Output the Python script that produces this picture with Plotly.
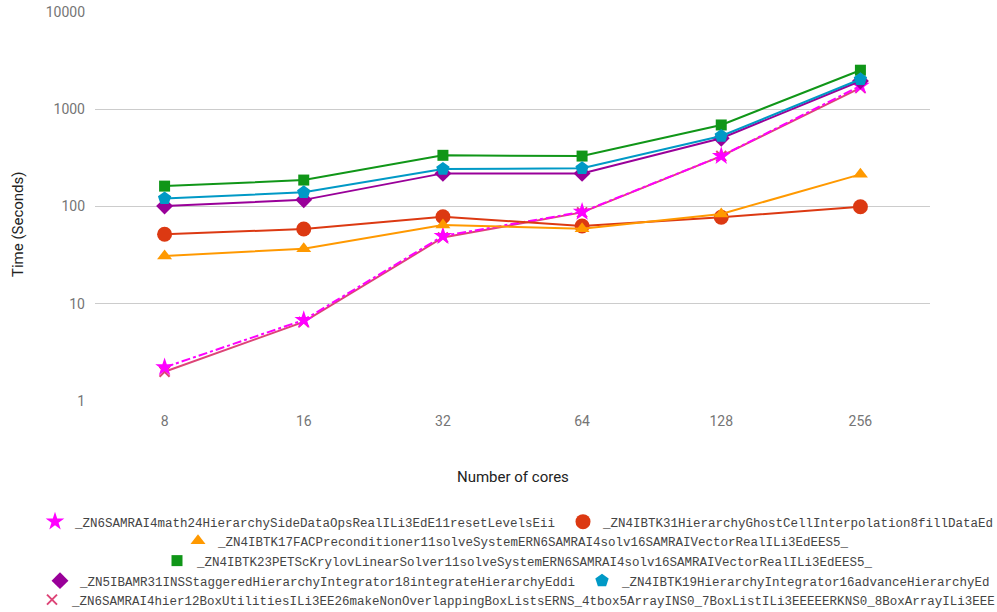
import plotly.graph_objects as go

cores = ["8", "16", "32", "64", "128", "256"]

names = [
    "_ZN6SAMRAI4math24HierarchySideDataOpsRealILi3EdE11resetLevelsEii",
    "_ZN4IBTK31HierarchyGhostCellInterpolation8fillDataEd",
    "_ZN4IBTK17FACPreconditioner11solveSystemERN6SAMRAI4solv16SAMRAIVectorRealILi3EdEES5_",
    "_ZN4IBTK23PETScKrylovLinearSolver11solveSystemERN6SAMRAI4solv16SAMRAIVectorRealILi3EdEES5_",
    "_ZN5IBAMR31INSStaggeredHierarchyIntegrator18integrateHierarchyEddi",
    "_ZN4IBTK19HierarchyIntegrator16advanceHierarchyEd",
    "_ZN6SAMRAI4hier12BoxUtilitiesILi3EE26makeNonOverlappingBoxListsERNS_4tbox5ArrayINS0_7BoxListILi3EEEEERKNS0_8BoxArrayILi3EEE",
]

reset_levels = [2.22, 6.8, 49.7, 88, 330, 1740]
fill_data = [51.8, 58.7, 78.5, 63, 77.4, 99.5]
fac_solve = [31, 36.8, 64.5, 59, 83.7, 214]
petsc_solve = [162, 187, 336, 330, 689, 2520]
integrate_hier = [101, 117, 219, 219, 503, 1950]
advance_hier = [121, 140, 243, 247, 531, 2032]
box_lists = [2.0, 6.5, 48, 87, 330, 1660]

series = [reset_levels, fill_data, fac_solve, petsc_solve, integrate_hier, advance_hier, box_lists]
colors = ["#ff00ff", "#dc3912", "#ff9900", "#109618", "#990099", "#0099c6", "#dd4477"]
symbols = ["star", "circle", "triangle-up", "square", "diamond", "pentagon", "x-thin-open"]
sizes = [14, 15, 13, 11, 13, 14, 10]
dashes = ["dashdot", "solid", "solid", "solid", "solid", "solid", "solid"]

# legend placement (left edge px, row centre px) - one legend per entry
legend_pos = [(35, 522), (563, 522), (178, 541), (157, 561), (40, 581), (582, 581), (32, 600)]
legend_ids = ["legend"] + ["legend%d" % (k + 2) for k in range(6)]

def make_marker(i):
    m = dict(color=colors[i], size=sizes[i], symbol=symbols[i])
    if symbols[i] == "x-thin-open":
        m["line"] = dict(color=colors[i], width=2)
    return m

fig = go.Figure()
order = [6, 0, 1, 2, 3, 4, 5]  # pink line drawn under the magenta star
for i in order:
    fig.add_trace(go.Scatter(
        x=cores, y=series[i], name=names[i], mode="lines+markers",
        line=dict(color=colors[i], width=2, dash=dashes[i]),
        marker=make_marker(i), showlegend=False,
    ))
# legend entries show the marker only
for i in range(len(series)):
    fig.add_trace(go.Scatter(
        x=[None], y=[None], name=names[i], mode="markers",
        marker=make_marker(i), legend=legend_ids[i], showlegend=True,
    ))

legend_font = dict(family="Liberation Mono, Courier New, monospace", size=12.5, color="#444")
W, H = 997.0, 612.0
def leg(px_left, py_center):
    return dict(orientation="h", xref="container", yref="container",
                x=px_left / W, xanchor="left",
                y=1 - py_center / H, yanchor="middle",
                font=legend_font, bgcolor="rgba(0,0,0,0)", itemclick=False,
                itemdoubleclick=False, traceorder="normal")

legends = {legend_ids[i]: leg(*legend_pos[i]) for i in range(len(legend_ids))}

fig.update_layout(
    width=997, height=612,
    margin=dict(l=95, r=67, t=12, b=211, autoexpand=False),
    paper_bgcolor="white", plot_bgcolor="white",
    font=dict(family="Roboto, sans-serif", size=14, color="#757575"),
    showlegend=True,
    xaxis=dict(type="category", range=[-0.5, 5.5], showgrid=False, zeroline=False,
               showline=False, ticks="", ticklabelstandoff=10),
    yaxis=dict(type="log", range=[0, 4], tickvals=[1, 10, 100, 1000, 10000],
               ticktext=["1", "10", "100", "1000", "10000"],
               gridcolor="#cccccc", gridwidth=1, zeroline=False, showline=False,
               ticks="", ticklabelstandoff=9),
    annotations=[
        dict(text="Number of cores", xref="paper", yref="paper", x=0.5006, y=-0.1954,
             showarrow=False, xanchor="center", yanchor="middle",
             font=dict(family="Roboto, sans-serif", size=15, color="#222")),
        dict(text="Time (Seconds)", xref="paper", yref="paper", x=-0.0922, y=0.455,
             showarrow=False, xanchor="center", yanchor="middle", textangle=-90,
             font=dict(family="Roboto, sans-serif", size=15, color="#222")),
    ],
    **legends,
)

fig.write_html("out.html", config={"displayModeBar": False},
               post_script="document.body.style.margin='0';")
